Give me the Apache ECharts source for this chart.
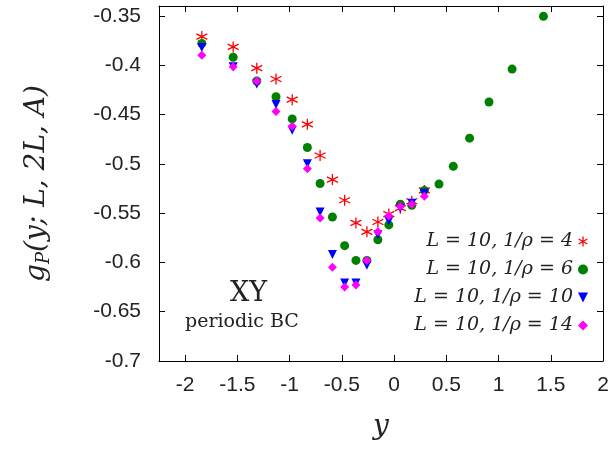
<!DOCTYPE html>
<html>
<head>
<meta charset="utf-8">
<script src="https://cdn.jsdelivr.net/npm/echarts@6/dist/echarts.min.js"></script>
<style>html,body{margin:0;background:#fff}#main{width:615px;height:451px}</style>
</head>
<body>
<div id="main"></div>
<script>
// data
var xs = [-1.84, -1.54, -1.314, -1.13, -0.975, -0.83, -0.708, -0.59, -0.473, -0.365, -0.26, -0.155, -0.05, 0.06, 0.17, 0.29];
var rho4 = [-0.371, -0.3815, -0.403, -0.414, -0.435, -0.46, -0.4916, -0.516, -0.537, -0.56, -0.569, -0.559, -0.551, -0.545, -0.538, -0.527];
var rho6 = [-0.378, -0.392, -0.416, -0.432, -0.4545, -0.4835, -0.52, -0.554, -0.583, -0.598, -0.598, -0.577, -0.562, -0.541, -0.542, -0.527];
var xs6extra = [0.43, 0.567, 0.723, 0.909, 1.13, 1.43];
var rho6extra = [-0.5206, -0.5026, -0.474, -0.4374, -0.404, -0.3505];
var rho10 = [-0.382, -0.4015, -0.419, -0.44, -0.466, -0.5, -0.549, -0.592, -0.621, -0.621, -0.603, -0.572, -0.558, -0.545, -0.54, -0.53];
var rho14 = [-0.39, -0.4015, -0.416, -0.447, -0.462, -0.505, -0.555, -0.605, -0.625, -0.623, -0.598, -0.569, -0.553, -0.543, -0.541, -0.533];
var names = ['L = 10, 1/ρ = 4', 'L = 10, 1/ρ = 6', 'L = 10, 1/ρ = 10', 'L = 10, 1/ρ = 14'];
var xTicks = [-2, -1.5, -1, -0.5, 0, 0.5, 1, 1.5, 2];
var yTicks = [-0.7, -0.65, -0.6, -0.55, -0.5, -0.45, -0.4, -0.35];

function pairs(x, y) { return x.map(function (v, i) { return [v, y[i]]; }); }

var myChart = echarts.init(document.getElementById('main'));
var star = 'path://M0,-1L0,1M-0.87,-0.5L0.87,0.5M-0.87,0.5L0.87,-0.5M0,-1Z';
var tickFont = { fontFamily: 'Liberation Sans', fontSize: 21, color: '#222' };
var tick = { inside: true, length: 6, lineStyle: { color: '#000' } };
var line = { onZero: false, lineStyle: { color: '#000', width: 1 } };

option = {
    animation: false,
    grid: { left: 159, top: 6, right: 12, bottom: 90 },
    xAxis: [
        { type: 'value', min: -2.25, max: 2,
          axisLine: line,
          axisTick: Object.assign({ customValues: xTicks }, tick),
          splitLine: { show: false },
          axisLabel: Object.assign({ margin: 14, customValues: xTicks }, tickFont),
          name: 'y', nameLocation: 'middle', nameGap: 52,
          nameTextStyle: { fontFamily: 'DejaVu Serif', fontStyle: 'italic', fontSize: 28, color: '#222' } },
        { type: 'value', position: 'top', min: -2.25, max: 2,
          axisLine: line,
          axisTick: Object.assign({ customValues: xTicks }, tick),
          axisLabel: { show: false }, splitLine: { show: false } }
    ],
    yAxis: [
        { type: 'value', min: -0.7, max: -0.34,
          axisLine: line,
          axisTick: Object.assign({ customValues: yTicks }, tick),
          splitLine: { show: false },
          axisLabel: Object.assign({ margin: 18, customValues: yTicks,
              formatter: function (v) { return +v.toFixed(2); } }, tickFont),
          name: '{i|g}{s|P}{i|(y; L, 2L, A)}', nameLocation: 'middle', nameGap: 106,
          nameTextStyle: { rich: {
              i: { fontFamily: 'DejaVu Serif', fontStyle: 'italic', fontSize: 28, color: '#222' },
              s: { fontFamily: 'DejaVu Serif', fontStyle: 'italic', fontSize: 18, color: '#222', verticalAlign: 'bottom', padding: [14, 0, 0, 0] } } } },
        { type: 'value', position: 'right', min: -0.7, max: -0.34,
          axisLine: line,
          axisTick: Object.assign({ customValues: yTicks }, tick),
          axisLabel: { show: false }, splitLine: { show: false } }
    ],
    legend: {
        orient: 'vertical', right: 22, top: 227, align: 'right', itemGap: 9,
        itemWidth: 10, itemHeight: 10,
        textStyle: { fontFamily: 'DejaVu Serif', fontStyle: 'italic', fontSize: 19, color: '#222' },
        data: [
            { name: names[0], icon: star, itemStyle: { color: '#ff0000', borderColor: '#ff0000', borderWidth: 1.3 } },
            { name: names[1], icon: 'circle' },
            { name: names[2], icon: 'path://M-1,-1L1,-1L0,1Z' },
            { name: names[3], icon: 'diamond' }
        ]
    },
    graphic: [
        { type: 'text', left: 230, top: 280, style: { text: 'XY', fontFamily: 'DejaVu Serif', fontSize: 27, fill: '#222' } },
        { type: 'text', left: 185, top: 313, style: { text: 'periodic BC', fontFamily: 'DejaVu Serif', fontSize: 19, fill: '#222' } }
    ],
    series: [
        { name: names[0], type: 'scatter', data: pairs(xs, rho4), symbol: star, symbolSize: 11,
          itemStyle: { color: '#ff0000', borderColor: '#ff0000', borderWidth: 1.3, opacity: 1 } },
        { name: names[1], type: 'scatter', data: pairs(xs, rho6).concat(pairs(xs6extra, rho6extra)),
          symbol: 'circle', symbolSize: 9, itemStyle: { color: '#008000', opacity: 1 } },
        { name: names[2], type: 'scatter', data: pairs(xs, rho10), symbol: 'path://M-1,-1L1,-1L0,1Z',
          symbolSize: 9, itemStyle: { color: '#0000ff', opacity: 1 } },
        { name: names[3], type: 'scatter', data: pairs(xs, rho14), symbol: 'diamond',
          symbolSize: 9, itemStyle: { color: '#ff00ff', opacity: 1 } }
    ]
};
myChart.setOption(option);
</script>
</body>
</html>
